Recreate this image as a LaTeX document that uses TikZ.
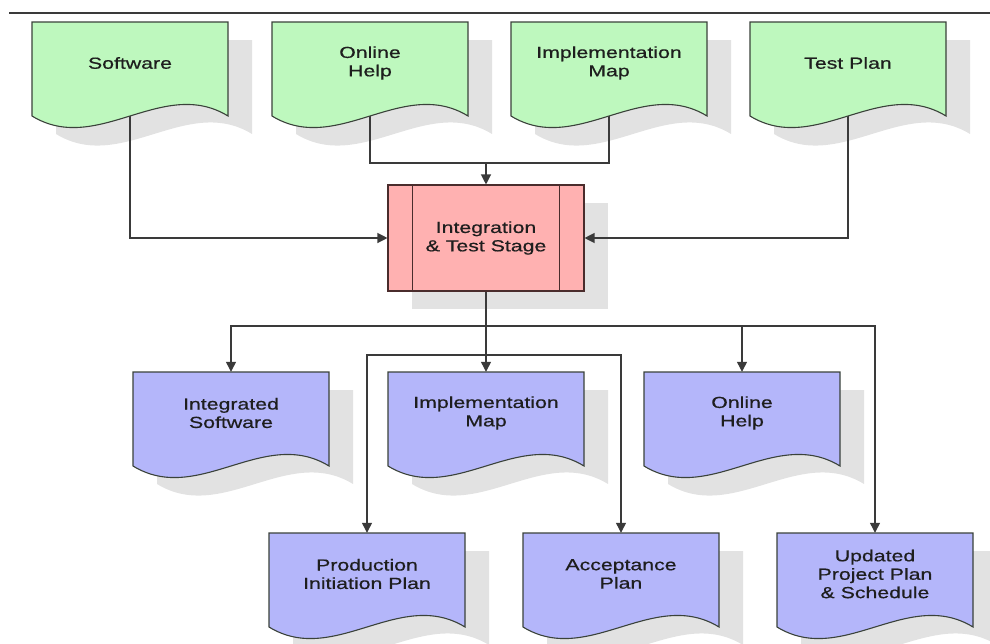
\documentclass[tikz,border=0pt]{standalone}
\usepackage{fontspec}
\setmainfont[FakeStretch=1.33, FakeBold=0.6]{Liberation Sans}
\usetikzlibrary{arrows.meta}

\definecolor{docgreen}{HTML}{BEF8BE}
\definecolor{docblue}{HTML}{B4B6FA}
\definecolor{stagepink}{HTML}{FFB1B1}
\definecolor{shadowgray}{HTML}{E2E2E2}
\definecolor{wire}{HTML}{3A3A3A}
\definecolor{sheetline}{HTML}{3A423A}
\definecolor{stageline}{HTML}{4A2C2C}
\definecolor{ink}{HTML}{1E1E1E}

\pgfdeclarelayer{shadow}
\pgfdeclarelayer{wires}
\pgfdeclarelayer{sheets}
\pgfsetlayers{shadow,wires,sheets,main}

\tikzset{
  label font/.style={font=\fontsize{16}{18.4}\selectfont, text=ink},
  docnode/.style={label font, minimum width=196pt, minimum height=82pt,
    inner sep=0pt, align=center},
  sheet/.style={draw=sheetline, line width=1.1pt},
  drop/.style={fill=shadowgray},
  stagebox/.style={label font, draw=stageline, fill=stagepink, line width=1.1pt,
    minimum width=196pt, minimum height=106pt, inner sep=0pt, align=center},
  link/.style={draw=wire, line width=1.2pt, -{Triangle[length=10pt,width=10pt]}},
  plain link/.style={draw=wire, line width=1.2pt},
}

% outline of a document sheet with a wavy lower edge; #1 = left x, #2 = top y
\newcommand\wavepath[2]{(#1,#2) -- (#1+196,#2) -- (#1+196,#2+94)
  .. controls (#1+130.7,#2+54) and (#1+65.3,#2+134) .. (#1,#2+94) -- cycle}

% document node: name, left x, top y, fill colour, label
\newcommand\docsheet[5]{%
  \node[docnode] (#1) at (#2+98,#3+41) {#5};
  \begin{pgfonlayer}{shadow}\path[drop] \wavepath{#2+24}{#3+18};\end{pgfonlayer}
  \begin{pgfonlayer}{sheets}\filldraw[sheet, fill=#4] \wavepath{#2}{#3};\end{pgfonlayer}}

\begin{document}
\begin{tikzpicture}[x=1pt, y=-1pt]
  \useasboundingbox (0,0) rectangle (990,643);

  % header rule
  \draw[plain link, line width=1.6pt] (9,13) -- (990,13);

  % inputs
  \docsheet{sw}{32}{22}{docgreen}{Software}
  \docsheet{oh}{272}{22}{docgreen}{Online\\Help}
  \docsheet{im}{511}{22}{docgreen}{Implementation\\Map}
  \docsheet{tp}{750}{22}{docgreen}{Test Plan}

  % stage
  \node[stagebox] (stage) at (486,238) {Integration\\\& Test Stage};
  \draw[stageline, line width=1.1pt] ([xshift=25pt]stage.north west) -- ([xshift=25pt]stage.south west);
  \draw[stageline, line width=1.1pt] ([xshift=-25pt]stage.north east) -- ([xshift=-25pt]stage.south east);
  \begin{pgfonlayer}{shadow}
    \path[drop] (412,203) rectangle (608,309);
  \end{pgfonlayer}

  % outputs
  \docsheet{isw}{133}{372}{docblue}{Integrated\\Software}
  \docsheet{imo}{388}{372}{docblue}{Implementation\\Map}
  \docsheet{oho}{644}{372}{docblue}{Online\\Help}
  \docsheet{pip}{269}{533}{docblue}{Production\\Initiation Plan}
  \docsheet{acc}{523}{533}{docblue}{Acceptance\\Plan}
  \docsheet{upd}{777}{533}{docblue}{Updated\\Project Plan\\\& Schedule}

  % junction points
  \coordinate (jtop) at (486,163);
  \coordinate (jbot) at (486,326);
  \coordinate (jmid) at (486,355);

  \begin{pgfonlayer}{wires}
    \draw[link] (sw) |- (stage);
    \draw[link] (tp) |- (stage);
    \draw[plain link] (oh) |- (jtop);
    \draw[plain link] (im) |- (jtop);
    \draw[link] (jtop) -- (stage);

    \draw[link] (stage) -- (imo);
    \draw[link] (jbot) -| (isw);
    \draw[link] (jbot) -| (oho);
    \draw[link] (jbot) -| (upd);
    \draw[link] (jmid) -| (pip);
    \draw[link] (jmid) -| (acc);
  \end{pgfonlayer}
\end{tikzpicture}
\end{document}
